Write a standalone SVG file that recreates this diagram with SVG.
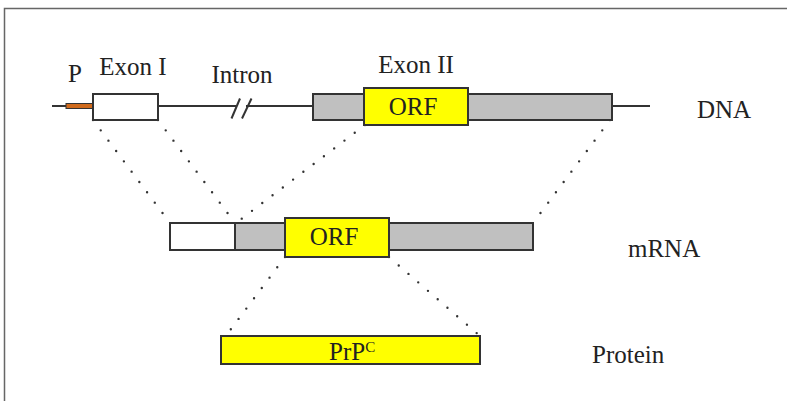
<svg xmlns="http://www.w3.org/2000/svg" width="787" height="401" viewBox="0 0 787 401">
<style>
text{font-family:"Liberation Serif","Times New Roman",serif;font-size:25px;fill:#222}
.box{stroke:#333;stroke-width:2}
.gray{fill:#c0c0c0}
.yel{fill:#ffff00}
.wht{fill:#fff}
.dot{fill:none;stroke:#333;stroke-width:2.4;stroke-linecap:round;stroke-dasharray:0 12.9}
.line{stroke:#333;stroke-width:2;fill:none}
</style>
<rect x="0" y="0" width="787" height="401" fill="#fff"/>
<path d="M4.5 401 V8.5 H787" fill="none" stroke="#666" stroke-width="1.5"/>
<g id="connectors">
<line class="dot" x1="93" y1="120" x2="170" y2="223"/>
<line class="dot" x1="158" y1="120" x2="235" y2="223"/>
<line class="dot" x1="365" y1="125" x2="236" y2="223"/>
<line class="dot" x1="610" y1="120" x2="533" y2="223"/>
<line class="dot" x1="285" y1="257" x2="228" y2="333"/>
<line class="dot" x1="389" y1="257" x2="480" y2="336"/>
</g>
<g id="dna">
<line class="line" x1="52" y1="106" x2="236" y2="106"/>
<line class="line" x1="246" y1="106" x2="650" y2="106"/>
<line class="line" x1="231.5" y1="118.5" x2="240" y2="98.5"/>
<line class="line" x1="242" y1="118.5" x2="251.5" y2="98.5"/>
<rect id="promoter" x="66" y="103.5" width="27" height="5" fill="#d06a1c" stroke="#333" stroke-width="1"/>
<rect id="exon1" class="box wht" x="93" y="94" width="65" height="26"/>
<rect id="exon2" class="box gray" x="313" y="94" width="299" height="26"/>
<rect id="orf-dna" class="box yel" x="364" y="88" width="104" height="37"/>
<text x="413" y="115" text-anchor="middle">ORF</text>
<text x="68" y="82">P</text>
<text x="133" y="75" text-anchor="middle">Exon I</text>
<text x="242" y="83" text-anchor="middle">Intron</text>
<text x="416" y="73" text-anchor="middle">Exon II</text>
<text x="697" y="118">DNA</text>
</g>
<g id="mrna">
<rect class="box wht" x="170" y="223" width="65" height="27"/>
<rect class="box gray" x="235" y="223" width="298" height="27"/>
<rect id="orf-mrna" class="box yel" x="285" y="218" width="104" height="39"/>
<text x="334" y="245" text-anchor="middle">ORF</text>
<text x="628" y="257">mRNA</text>
</g>
<g id="protein">
<rect class="box yel" x="221" y="336" width="259" height="28"/>
<text x="329" y="360">PrP<tspan font-size="15" dy="-8">C</tspan></text>
<text x="592" y="363">Protein</text>
</g>
</svg>
